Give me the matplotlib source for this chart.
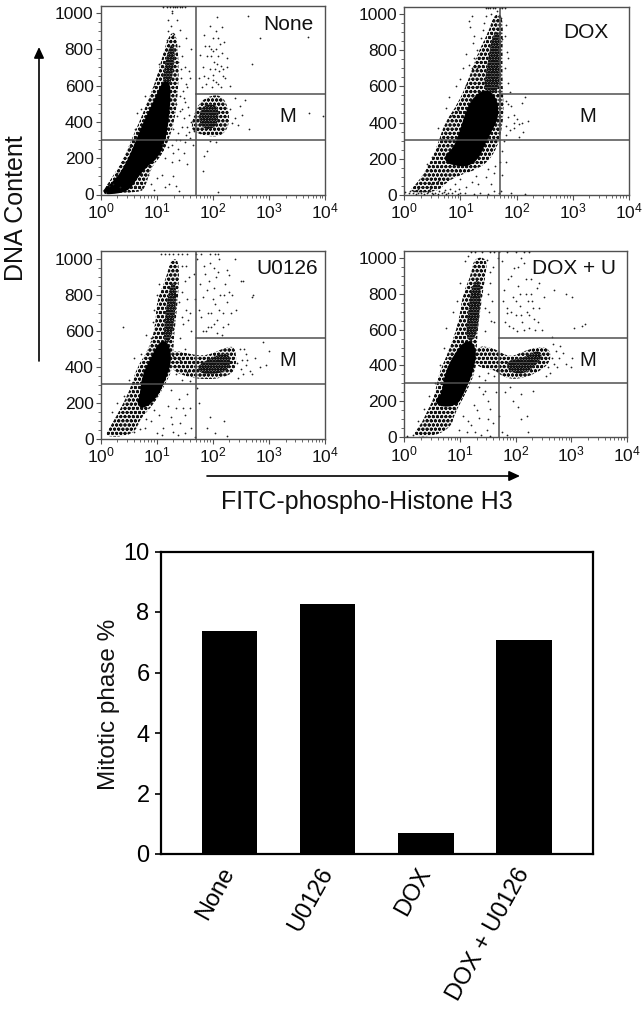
import matplotlib
matplotlib.use("Agg")
import matplotlib.pyplot as plt
import numpy as np
from matplotlib.path import Path
from matplotlib.patches import PathPatch
from matplotlib.ticker import FixedLocator, LogLocator, LogFormatterMathtext, NullFormatter
from matplotlib.transforms import ScaledTranslation

plt.rcParams['font.family'] = ['Liberation Sans', 'DejaVu Sans']
plt.rcParams['mathtext.default'] = 'regular'
plt.rcParams['mathtext.fontset'] = 'custom'
plt.rcParams['mathtext.rm'] = 'Liberation Sans'
plt.rcParams['hatch.linewidth'] = 0.95

W, H = 642, 1011

# ---- bar chart data
bar_labels = ['None', 'U0126', 'DOX', 'DOX + U0126']
bar_values = [7.36, 8.25, 0.69, 7.06]

# ---- flow cytometry panels: (log10 FITC, DNA content)
none_core = [(.05,16),(.29,71),(.5,172),(.65,282),(.82,410),(1.0,519),(1.12,611),(1.21,611),(1.21,519),(1.18,410),(1.12,300),(1.0,208),(.77,154),(.59,80),(.47,26),(.17,11)]
none_dense = [(1.1,600),(1.14,700),(1.2,790),(1.27,830),(1.33,790),(1.3,700),(1.25,600)]
none_halo = [(.02,10),(.2,90),(.4,190),(.55,300),(.72,420),(.85,520),(1.0,640),(1.12,780),(1.22,880),(1.35,900),(1.4,700),(1.38,560),(1.32,400),(1.2,290),(1.1,220),(.9,150),(.8,40),(.7,10)]
none_m_halo = [(1.6,370),(1.72,490),(1.9,540),(2.15,550),(2.28,480),(2.3,380),(2.15,320),(1.9,320),(1.7,340)]
none_m_core = [(1.75,400),(1.78,470),(1.9,500),(2.1,490),(2.1,400),(2.0,360),(1.85,360)]
none_dots = [(1.21,960),(1.27,1010),(1.33,1030),(1.41,1032),(1.5,1030),(1.2,900),(1.25,930),(1.3,880),(1.36,960),(1.42,905),(1.28,1000),(1.18,850),(1.4,820),(1.46,760),(1.5,700),(1.44,640),(1.55,590),(1.58,680),(1.6,640),(1.62,800),(1.53,860),
 (1.75,640),(1.82,700),(1.88,610),(1.93,820),(1.97,760),(2.01,660),(2.05,900),(2.07,720),(2.1,610),(2.13,830),(2.17,780),(2.19,690),(2.22,640),(2.05,620),(1.95,690),(1.85,880),(1.9,760),(2.0,860),(2.12,680),(2.16,920),(2.08,980),(2.2,840),(2.25,750),(1.98,590),(1.8,590),(1.92,640),(2.03,730),(2.14,590),(2.3,600),
 (2.4,530),(2.48,490),(2.52,440),(2.4,420),(2.45,380),(2.58,520),(2.65,360),(2.7,720),(2.62,985),(2.85,860),(3.7,865),(3.97,430),(3.72,450),(2.3,470),(2.35,395),
 (1.35,500),(1.42,460),(1.48,420),(1.5,510),(1.55,370),(1.38,340),(1.45,370),(1.52,330),(1.6,310),(1.3,360),(1.34,300),(1.58,440),(1.25,470),
 (1.1,280),(1.2,260),(1.3,230),(1.15,200),(1.28,180),(1.4,190),(1.48,230),(1.55,170),(1.64,270),(1.3,100),(1.22,60),(1.15,40),(1.35,45),(1.4,20),(1.1,110),(1.0,90),(.9,60),(.95,25),(.72,30),(.85,110),(.62,45),(1.9,240),(1.85,210),(1.82,130),(2.1,15),(1.95,295),(2.05,290),
 (.35,40),(.22,60),(.15,45),(.3,120),(.42,180),(.53,260),(.62,360),(.72,470),(.8,540),(.65,450),(.95,600),(1.05,720),
 (1.24,1030),(1.3,1032),(1.36,1030),(1.45,1033),(1.12,1030),(1.18,1031),(1.38,730),(1.43,690),(1.47,570),(1.52,610),(1.48,530),(1.41,540),(1.56,480),(1.46,470),(1.36,430),(1.62,400),(1.66,350),(1.58,345),(1.42,300),(1.5,290),(1.28,270),(1.38,250),
 (1.78,770),(1.87,820),(1.95,930),(2.0,790),(2.04,690),(2.1,760),(2.15,710),(2.0,630),(2.1,860),(2.18,650),(1.96,800),(2.06,800),(1.84,650),(2.26,700)]

dox_core = [(.75,211),(.9,249),(1.02,341),(1.14,471),(1.29,545),(1.47,573),(1.62,527),(1.65,434),(1.53,360),(1.38,267),(1.29,202),(1.11,165),(.9,174),(.78,184)]
dox_dense = [(1.4,560),(1.48,720),(1.58,900),(1.72,900),(1.72,720),(1.68,560)]
dox_halo = [(0.05,10),(.25,70),(.45,170),(.6,280),(.72,400),(.95,500),(1.15,640),(1.3,780),(1.5,900),(1.6,1000),(1.76,1000),(1.75,800),(1.75,600),(1.78,450),(1.7,300),(1.55,200),(1.3,140),(1.0,110),(.75,70),(.6,15)]
dox_m_halo = []
dox_m_core = []
dox_dots = [(1.52,1033),(1.58,1034),(1.5,1033),(1.62,1033),(1.7,1034),(1.75,1033),(1.8,1032),(1.46,1033),(1.2,990),(1.15,960),(1.17,930),(1.25,880),(1.22,840),(1.3,800),(1.1,780),(1.35,760),(1.05,700),(1.2,700),(1.0,640),(.92,600),(.8,540),(1.1,610),(1.25,620),
 (1.45,990),(1.55,1000),(1.6,960),(1.65,1020),(1.72,980),(1.75,860),(1.83,790),(1.8,700),(1.85,620),(1.82,520),(1.9,490),(1.95,440),(1.85,430),(2.0,420),(2.05,390),(2.1,400),(2.2,410),(2.12,350),(2.05,320),(1.95,370),(2.15,540),(2.1,510),(1.88,360),(1.82,330),
 (.02,15),(.08,8),(.15,12),(.2,6),(.3,10),(.35,5),(.42,14),(.5,8),(.55,12),(.6,6),(.68,10),(.75,5),(.85,12),(.95,6),(1.08,9),(1.25,6),(1.35,12),(1.5,5),(1.6,18),(1.68,8),(1.9,8),(2.15,6),
 (.2,60),(.25,30),(.32,45),(.45,30),(.48,60),(.38,85),(.55,40),(.6,75),(.72,25),(.82,30),(.9,60),(1.0,85),(.98,30),(1.1,45),(1.2,70),(1.28,105),(1.32,60),(1.45,100),(1.5,140),(1.55,60),(1.62,160),(1.7,180),(1.75,110),(1.72,20),(1.82,180),
 (.4,170),(.5,210),(.6,260),(.65,310),(.72,350),(.85,440),(.95,470),(1.05,530),(.6,370),(.75,480),
 (.1,18),(.18,20),(.25,9),(.33,18),(.4,7),(.46,20),(.52,4),(.62,18),(.7,16),(.78,8),(.9,18),(1.0,10),(1.4,910),(1.42,950),(1.36,870),(1.3,700),(1.15,720),(1.25,760),(1.38,640),(1.32,600),(1.8,880),(1.82,940),(1.85,760),(1.88,570),(1.85,500),(1.95,400),(1.82,380),(1.78,300),(1.75,240),(1.6,120)]

u_core = [(.74,234),(.77,346),(.92,439),(1.07,532),(1.18,532),(1.24,439),(1.12,327),(.98,234),(.77,178),(.68,197)]
u_dense = [(1.12,532),(1.15,680),(1.24,866),(1.36,866),(1.33,680),(1.24,532)]
u_halo = [(.05,5),(.2,80),(.38,180),(.55,290),(.65,400),(.85,490),(.98,620),(1.0,770),(1.18,900),(1.25,1000),(1.4,1000),(1.4,850),(1.35,680),(1.3,540),(1.3,400),(1.15,300),(.95,190),(.7,110),(.6,20)]
u_m_halo = [(1.25,500),(1.6,470),(1.9,460),(2.3,520),(2.42,500),(2.42,380),(2.2,340),(1.9,330),(1.6,340),(1.25,380)]
u_m_core = [(1.72,400),(1.9,440),(2.2,480),(2.32,460),(2.3,390),(2.1,360),(1.8,360)]
u_dots = [(1.08,1030),(1.15,1032),(1.22,1030),(1.3,1031),(1.38,1032),(1.45,1030),(1.55,1031),(1.7,1032),(1.8,1030),(1.95,1032),(2.05,1030),(2.1,1031),(.4,620),(.93,650),(.95,720),(1.05,860),(1.0,800),
 (1.45,960),(1.5,880),(1.55,780),(1.6,700),(1.62,600),(1.48,640),(1.52,720),(1.42,560),(1.66,920),(1.68,780),(1.72,1000),
 (1.78,860),(1.82,790),(1.86,920),(1.92,700),(1.95,980),(1.98,620),(2.02,840),(2.05,750),(2.08,660),(2.1,930),(2.13,800),(2.16,580),(2.18,700),(2.22,860),(2.25,760),(2.28,640),(2.3,910),(2.35,800),(2.4,1000),(2.42,720),(2.5,880),(2.55,880),(2.7,790),(2.72,800),(1.88,600),(1.98,700),(2.08,590),(2.18,620),(1.8,680),(1.9,830),(2.02,950),(2.12,1000),
 (2.48,500),(2.52,440),(2.6,410),(2.66,380),(2.75,450),(2.85,400),(2.9,540),(2.95,410),(3.0,490),(2.55,360),(2.45,340),(2.6,470),
 (1.3,460),(1.42,440),(1.5,500),(1.35,360),(1.45,330),(1.55,370),(1.6,320),
 (.65,80),(.6,40),(.8,60),(.9,100),(1.0,30),(1.05,130),(1.12,60),(1.2,180),(1.25,120),(1.3,40),(1.38,20),(1.42,90),(1.5,30),(1.55,250),(1.6,170),(1.62,60),(1.68,10),(1.75,200),(1.72,280),(1.95,120),(1.9,60),(2.2,100),(2.05,30),(2.25,15),(1.0,240),(1.25,270),(1.4,220),(1.35,170),(.95,160),
 (.2,150),(.3,200),(.42,240),(.5,330),(.6,450),(.72,470),(.82,580),(.9,560),
 (1.76,720),(1.84,960),(1.94,880),(2.0,780),(2.06,900),(2.12,720),(2.2,800),(2.26,940),(2.32,700),(1.82,600),(1.92,620),(2.02,640),(2.3,820),(1.56,660),(1.46,820),(1.52,960),(1.58,900),(1.4,760),(1.45,680),
 (2.44,420),(2.5,390),(2.56,500),(2.62,440),(2.7,360),(1.1,20),(1.28,80),(.82,110),(.7,55),(1.5,130),(1.48,170)]

du_core = [(.7,225),(.76,354),(.94,465),(1.15,539),(1.27,483),(1.21,373),(1.06,262),(.94,188),(.67,179),(.58,207)]
du_dense = [(1.1,540),(1.15,700),(1.22,860),(1.38,880),(1.36,700),(1.28,540)]
du_halo = [(.12,5),(.3,70),(.42,150),(.55,230),(.6,340),(.8,480),(.98,640),(1.05,800),(1.2,900),(1.25,1000),(1.5,1000),(1.45,880),(1.35,680),(1.3,520),(1.3,380),(1.1,240),(.9,130),(.85,60),(.55,5)]
du_m_halo = [(1.27,510),(1.6,500),(1.9,440),(2.2,490),(2.6,510),(2.65,420),(2.35,350),(2.0,320),(1.75,340),(1.6,380),(1.27,390)]
du_m_core = [(1.85,370),(1.85,430),(2.15,440),(2.4,490),(2.5,450),(2.3,380),(2.1,350)]
du_dots = [(1.2,1030),(1.28,1032),(1.4,1031),(1.55,1030),(1.62,1032),(1.7,1031),(1.85,1030),(2.0,1032),(2.15,1030),(2.25,1031),(1.1,980),(1.15,1010),(.72,500),(.75,610),(.88,700),(.95,760),(1.0,860),
 (1.48,990),(1.55,860),(1.58,760),(1.62,640),(1.52,700),(1.46,590),(1.6,950),(1.68,1000),
 (1.75,980),(1.8,820),(1.84,720),(1.88,620),(1.92,900),(1.95,780),(2.0,680),(2.02,590),(2.05,840),(2.08,730),(2.12,640),(2.15,970),(2.18,800),(2.2,700),(2.24,610),(2.28,880),(2.3,760),(2.34,660),(2.38,830),(2.42,720),(2.48,600),(2.5,920),(2.52,780),(2.7,820),(2.9,800),(3.02,780),(3.05,610),(3.2,620),(3.25,630),(2.65,560),(1.85,690),(1.95,610),(2.05,950),(2.15,600),(2.22,760),(2.35,600),(2.0,760),
 (2.68,520),(2.72,480),(2.78,440),(2.85,470),(2.75,390),(2.62,360),(2.9,410),(3.0,390),(3.02,440),(2.55,340),
 (1.35,340),(1.45,320),(1.5,360),(1.55,470),(1.62,340),
 (1.35,280),(1.45,260),(1.5,200),(1.55,160),(1.65,250),(1.7,120),(1.6,80),(1.48,40),(1.35,110),(1.25,180),(1.2,70),(1.12,30),(1.05,120),(.98,40),(.92,160),(1.38,15),(1.55,10),(1.75,30),(1.85,15),(1.82,250),(1.9,280),(1.95,200),(2.05,170),(2.1,100),(2.2,120),(2.22,30),(2.32,260),(2.1,240),
 (.25,90),(.35,160),(.45,230),(.55,300),(.65,400),(.05,10),(.15,15),
 (1.78,760),(1.86,880),(1.98,940),(2.08,800),(2.18,880),(2.25,680),(2.32,720),(2.4,640),(1.82,640),(1.92,700),(2.1,680),(2.28,800),(2.42,860),(2.1,1000),(1.56,650),(1.5,800),(1.45,720),(1.55,920),
 (2.58,390),(2.66,440),(2.7,410),(2.8,510),(1.42,240),(1.3,150),(1.15,90),(1.5,100),(1.28,30)]

x_ticks = [1, 10, 100, 1000, 10000]
y_ticks = [0, 200, 400, 600, 800, 1000]

panels = [
    ('None', (100.5, 325, 6, 194.5), 1038, 1.71, 554, 302, (288, 25), (288, 116), none_core, none_dense, none_halo, none_m_core, none_m_halo, none_dots),
    ('DOX', (404.3, 628.7, 7, 194.7), 1040, 1.71, 558, 302, (586, 32), (588, 116), dox_core, dox_dense, dox_halo, dox_m_core, dox_m_halo, dox_dots),
    ('U0126', (100.5, 324.7, 250.7, 438.7), 1048, 1.71, 561, 305, (287, 268), (288, 361), u_core, u_dense, u_halo, u_m_core, u_m_halo, u_dots),
    ('DOX + U', (404.3, 626.7, 250.7, 437.3), 1039, 1.71, 555, 303, (574, 268), (588, 360), du_core, du_dense, du_halo, du_m_core, du_m_halo, du_dots),
]

fig = plt.figure(figsize=(W/100, H/100), dpi=100)
bg = fig.add_axes([0, 0, 1, 1]); bg.set_xlim(0, W); bg.set_ylim(H, 0); bg.axis('off'); bg.set_zorder(10)

GRAY = '#505050'

def blob(ax, pts, hatch=None, face='none'):
    """Smooth closed outline through the midpoints of the read-off polygon."""
    if not pts:
        return
    a = np.array(pts, float)
    mid = (a + np.roll(a, -1, axis=0)) / 2
    verts = [mid[-1]]
    codes = [Path.MOVETO]
    for p, m in zip(a, mid):
        verts += [p, m]
        codes += [Path.CURVE3, Path.CURVE3]
    v = np.array(verts)
    v[:, 0] = 10**v[:, 0]
    if hatch:
        patch = PathPatch(Path(v, codes), facecolor=face, edgecolor='#111111', hatch=hatch, lw=0, zorder=2)
    else:
        patch = PathPatch(Path(v, codes), facecolor='k', edgecolor='k', lw=3, zorder=2)
    ax.add_patch(patch)

for name, (l, r, t, b), ytop, gx, gh, gl, lab, mpos, core, dense, halo, mcore, mhalo, dots in panels:
    ax = fig.add_axes([l/W, 1-b/H, (r-l)/W, (b-t)/H])
    ax.set_xscale('log'); ax.set_xlim(1, 1e4); ax.set_ylim(0, ytop)
    blob(ax, halo, 'oooo', '#eeeeee')
    blob(ax, mhalo, 'oooo', '#eeeeee')
    blob(ax, dense, 'oooooo', '#888888')
    blob(ax, mcore, 'oooooo', '#888888')
    blob(ax, core)
    d = np.array(dots, float)
    ax.scatter(10**d[:, 0], d[:, 1], s=1.6, c='#222222', lw=0, zorder=3, clip_on=False)
    ax.axvline(10**gx, color=GRAY, lw=1.1, zorder=4)
    ax.axhline(gl, color=GRAY, lw=1.1, zorder=4)
    ax.plot([10**gx, 1e4], [gh, gh], color=GRAY, lw=1.1, zorder=4)
    for s in ax.spines.values():
        s.set_linewidth(1); s.set_color(GRAY)
    ax.xaxis.set_major_locator(FixedLocator(x_ticks))
    ax.xaxis.set_major_formatter(LogFormatterMathtext())
    ax.xaxis.set_minor_locator(LogLocator(base=10, subs=np.arange(2, 10), numticks=10))
    ax.xaxis.set_minor_formatter(NullFormatter())
    ax.yaxis.set_major_locator(FixedLocator(y_ticks))
    ax.yaxis.set_minor_locator(FixedLocator(list(range(0, 1001, 50))))
    ax.tick_params(which='major', length=3.5, width=.8, color=GRAY, labelsize=12.5, pad=1.5, labelcolor='#111111')
    ax.tick_params(which='minor', length=2, width=.6, color=GRAY)
    bg.text(lab[0], lab[1], name, fontsize=15, ha='center', va='center', color='#111111')
    bg.text(mpos[0], mpos[1], 'M', fontsize=14.5, ha='center', va='center', color='#111111')

# axis annotations
bg.annotate('', xy=(39, 47), xytext=(39, 361), arrowprops=dict(arrowstyle='-|>,head_width=.3,head_length=.65', color='k', lw=1.2, shrinkA=0, shrinkB=0))
bg.annotate('', xy=(520, 476), xytext=(207, 476), arrowprops=dict(arrowstyle='-|>,head_width=.3,head_length=.65', color='k', lw=1.2, shrinkA=0, shrinkB=0))
bg.text(16, 208, 'DNA Content', rotation=90, fontsize=18, ha='center', va='center', color='#111111')
bg.text(367, 502, 'FITC-phospho-Histone H3', fontsize=18, ha='center', va='center', color='#111111')

# bar chart
L, R, T, B = 160.7, 593, 551.5, 854
ax = fig.add_axes([L/W, 1-B/H, (R-L)/W, (B-T)/H])
ax.bar(range(4), bar_values, width=.565, color='k')
ax.set_xlim(-.70, 3.70); ax.set_ylim(0, 10)
ax.set_xticks(range(4))
ax.set_xticklabels(bar_labels, rotation=61, ha='right', va='center', rotation_mode='anchor', fontsize=17)
off = ScaledTranslation(14/100, 0, fig.dpi_scale_trans)
for t in ax.get_xticklabels():
    t.set_transform(t.get_transform() + off)
ax.set_yticks([0, 2, 4, 6, 8, 10])
ax.tick_params(axis='y', direction='out', length=4, width=1.2, labelsize=17, pad=4)
ax.tick_params(axis='x', length=0, pad=11)
for s in ax.spines.values():
    s.set_linewidth(1.6)
bg.text(109, 704, 'Mitotic phase %', rotation=90, fontsize=17.5, ha='center', va='center', color='#111111')

fig.savefig('out.png', dpi=100)
